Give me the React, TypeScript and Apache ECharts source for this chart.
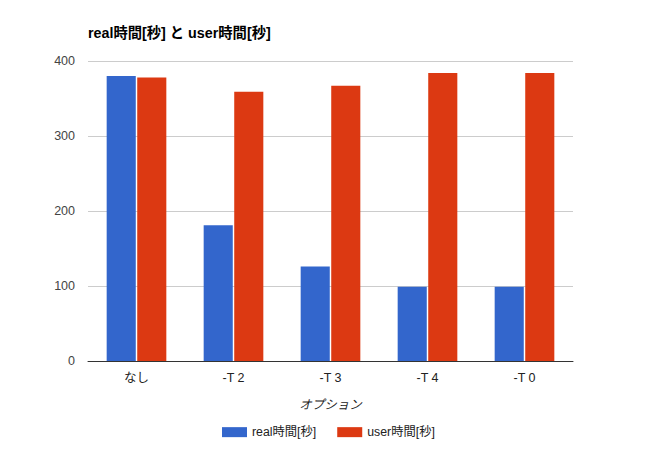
import React, { useEffect, useRef } from "react";
import * as echarts from "echarts";

const categories = ["なし", "-T 2", "-T 3", "-T 4", "-T 0"];
const realSeconds = [380, 181, 126, 99, 99];
const userSeconds = [378, 359, 367, 384, 384];
const yTicks = [0, 100, 200, 300, 400];

const FONT = '"Liberation Sans", Arial, "Noto Sans CJK JP", sans-serif';

export default function App() {
  const ref = useRef<HTMLDivElement>(null);
  useEffect(() => {
    if (!ref.current) return;
    const chart = echarts.init(ref.current, null, { renderer: "svg" });
    chart.setOption({
      animation: false,
      textStyle: { fontFamily: FONT },
      title: {
        text: "real時間[秒] と user時間[秒]",
        left: 88,
        top: 26,
        padding: 0,
        textStyle: { fontFamily: FONT, fontSize: 14.3, fontWeight: "bold", color: "#000" },
      },
      grid: { left: 88, right: 77, top: 61, bottom: 90, containLabel: false },
      legend: {
        top: 426,
        left: 222,
        padding: 0,
        itemWidth: 25,
        itemHeight: 10,
        itemGap: 21,
        icon: "rect",
        textStyle: { fontFamily: FONT, fontSize: 12.3, color: "#222" },
        data: ["real時間[秒]", "user時間[秒]"],
      },
      xAxis: {
        type: "category",
        data: categories,
        name: "オプション",
        nameLocation: "middle",
        nameGap: 38,
        nameTextStyle: { fontFamily: FONT, fontSize: 12.5, fontStyle: "italic", color: "#222" },
        axisLine: { lineStyle: { color: "#333", width: 1 } },
        axisTick: { show: false },
        axisLabel: { fontFamily: FONT, fontSize: 12.5, color: "#222", margin: 11 },
      },
      yAxis: {
        type: "value",
        min: yTicks[0],
        max: yTicks[yTicks.length - 1],
        interval: 100,
        axisLine: { show: false },
        axisTick: { show: false },
        axisLabel: { fontFamily: FONT, fontSize: 12.5, color: "#444", margin: 13 },
        splitLine: { lineStyle: { color: "#cccccc" } },
      },
      series: [
        {
          name: "real時間[秒]",
          type: "bar",
          data: realSeconds,
          barWidth: "30%",
          barGap: "5%",
          itemStyle: { color: "#3366cc" },
        },
        {
          name: "user時間[秒]",
          type: "bar",
          data: userSeconds,
          barWidth: "30%",
          itemStyle: { color: "#dc3912" },
        },
      ],
    });
    return () => chart.dispose();
  }, []);
  return <div ref={ref} style={{ width: 650, height: 451, margin: -8 }} />;
}
